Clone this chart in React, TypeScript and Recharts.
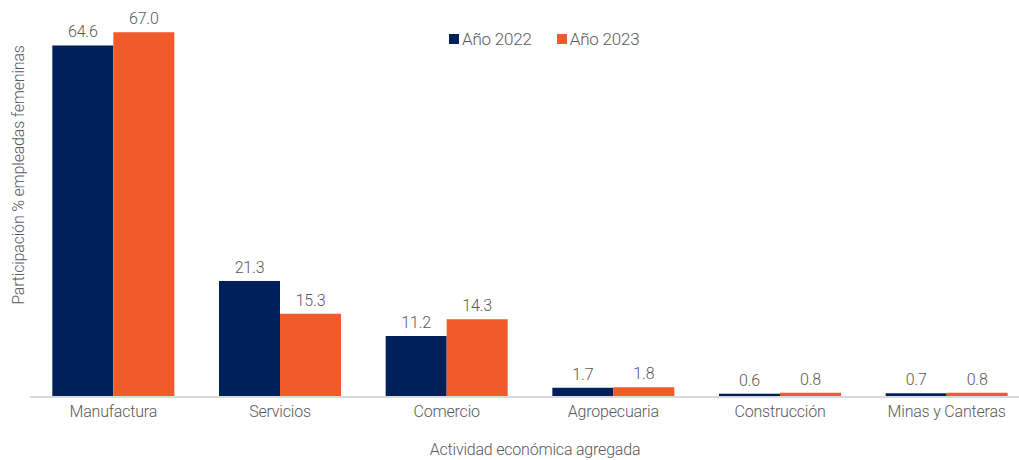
import React from "react";
import { BarChart, Bar, XAxis, YAxis, LabelList } from "recharts";

const categories = ["Manufactura", "Servicios", "Comercio", "Agropecuaria", "Construcción", "Minas y Canteras"];
const year2022 = [64.6, 21.3, 11.2, 1.7, 0.6, 0.7];
const year2023 = [67.0, 15.3, 14.3, 1.8, 0.8, 0.8];
const seriesNames = ["Año 2022", "Año 2023"];

const data = categories.map((c, i) => ({ name: c, y2022: year2022[i], y2023: year2023[i] }));

const FONT = "Roboto, 'Noto Sans', sans-serif";
const GRAY = "#595959";
const NAVY = "#00205B";
const ORANGE = "#F15A2B";
const colors = [NAVY, ORANGE];
const LS = "-0.2px";

const fmt = (v: any) => Number(v).toFixed(1);

const textStyle = { fill: GRAY, fontSize: 16, fontFamily: FONT, fontWeight: 300, letterSpacing: LS };

export default function App() {
  return (
    <div style={{ position: "absolute", left: 0, top: 0, width: 1019, height: 460, overflow: "hidden", background: "#fff", fontFamily: FONT }}>
      <BarChart
        width={1040}
        height={460}
        data={data}
        margin={{ top: 16, right: 10, bottom: 33, left: 30 }}
        barCategoryGap="13.4%"
        barGap={0}
      >
        <XAxis
          dataKey="name"
          height={30}
          axisLine={{ stroke: "#d9d9d9", strokeWidth: 2 }}
          tickLine={false}
          tick={textStyle}
          tickMargin={3}
        />
        <YAxis hide domain={[0, 70]} />
        <Bar dataKey="y2022" name={seriesNames[0]} fill={NAVY} isAnimationActive={false}>
          <LabelList dataKey="y2022" position="top" offset={8} formatter={fmt} style={textStyle} />
        </Bar>
        <Bar dataKey="y2023" name={seriesNames[1]} fill={ORANGE} isAnimationActive={false}>
          <LabelList dataKey="y2023" position="top" offset={8} formatter={fmt} style={textStyle} />
        </Bar>
      </BarChart>
      <div style={{ position: "absolute", left: 449, top: 29, display: "flex", alignItems: "center", whiteSpace: "nowrap" }}>
        {seriesNames.map((n, i) => (
          <div key={n} style={{ display: "flex", alignItems: "center", marginRight: i === 0 ? 25 : 0 }}>
            <div style={{ width: 10, height: 10, background: colors[i], marginRight: 3 }} />
            <span style={{ color: GRAY, fontSize: 17, fontWeight: 300, letterSpacing: LS }}>{n}</span>
          </div>
        ))}
      </div>
      <div
        style={{
          position: "absolute",
          left: 18,
          top: 175,
          transform: "translate(-50%, -50%) rotate(-90deg)",
          whiteSpace: "nowrap",
          color: GRAY,
          fontSize: 16,
          fontWeight: 300,
          letterSpacing: LS,
        }}
      >
        Participación % empleadas femeninas
      </div>
      <div
        style={{
          position: "absolute",
          left: 535,
          top: 449,
          transform: "translate(-50%, -50%)",
          whiteSpace: "nowrap",
          color: GRAY,
          fontSize: 16,
          fontWeight: 300,
          letterSpacing: LS,
        }}
      >
        Actividad económica agregada
      </div>
    </div>
  );
}
